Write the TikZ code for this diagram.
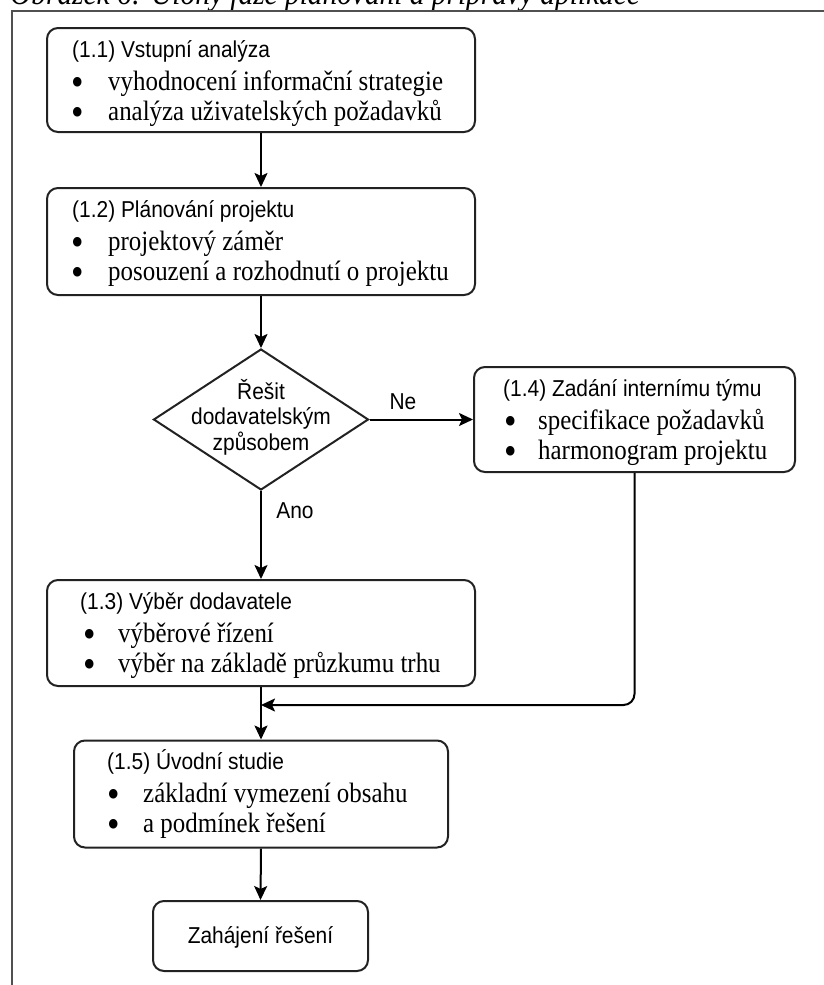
\documentclass[tikz,border=0pt]{standalone}
\usepackage{fontspec}
\setmainfont{Liberation Serif}
\setsansfont{Liberation Sans}
\newfontfamily\boxsans[FakeStretch=0.91]{Liberation Sans}
\newfontfamily\boxserif[FakeStretch=0.89]{Liberation Serif}
\newfontfamily\capserif[FakeStretch=0.89]{Liberation Serif}
\usetikzlibrary{shapes.geometric,arrows.meta}

\definecolor{boxline}{HTML}{222222}
\definecolor{framegray}{HTML}{505050}

\tikzset{
  box/.style={draw=boxline, line width=2pt, rounded corners=11pt, inner sep=0pt},
  flow/.style={draw=black, line width=2pt, -{Stealth[length=14pt,width=13pt,inset=3pt]}},
  ttl/.style={anchor=base west, inner sep=0pt, font=\boxsans\fontsize{23}{27}\selectfont},
  itm/.style={anchor=base west, inner sep=0pt, font=\boxserif\fontsize{28}{32}\selectfont},
  bul/.style={anchor=base west, inner sep=0pt, yshift=-5pt, font=\boxserif\fontsize{40}{40}\selectfont},
  lbl/.style={inner sep=0pt, font=\boxsans\fontsize{23}{27}\selectfont},
}

\begin{document}
\begin{tikzpicture}[x=1pt,y=-1pt]
\useasboundingbox (0,0) rectangle (823,985);

% caption above the frame
\node[anchor=base west, inner sep=0pt, font=\capserif\itshape\fontsize{33}{38}\selectfont] (cap) at (10,5)
  {Obrázek 6: Úlohy fáze plánování a přípravy aplikace};

% frame
\draw[framegray, line width=2.5pt] (12,986) -- (12,11) -- (824,11);

% boxes
\node[box, minimum width=428pt, minimum height=104pt] (b11) at (261,80) {};
\node[box, minimum width=428pt, minimum height=107pt] (b12) at (261,241.5) {};
\node[draw=boxline, line width=2pt, diamond, minimum width=215pt, minimum height=141pt, inner sep=0pt] (dia) at (261,419.5) {};
\node[box, minimum width=321pt, minimum height=105pt] (b14) at (634.5,419.5) {};
\node[box, minimum width=428pt, minimum height=106pt] (b13) at (261,633) {};
\node[box, minimum width=374pt, minimum height=107pt] (b15) at (261,794) {};
\node[box, minimum width=215pt, minimum height=70pt] (b16) at (260.5,936) {};

% box texts
\node[ttl] (t11) at (72,57) {(1.1) Vstupní analýza};
\node[bul] (u11a) at (71,90) {•};
\node[itm] (v11a) at (108,90) {vyhodnocení informační strategie};
\node[bul] (u11b) at (71,120) {•};
\node[itm] (v11b) at (108,120) {analýza uživatelských požadavků};

\node[ttl] (t12) at (72,217) {(1.2) Plánování projektu};
\node[bul] (u12a) at (71,250) {•};
\node[itm] (v12a) at (108,250) {projektový záměr};
\node[bul] (u12b) at (71,280) {•};
\node[itm] (v12b) at (108,280) {posouzení a rozhodnutí o projektu};

\node[lbl, align=center, font=\boxsans\fontsize{23}{25.5}\selectfont] (tdia) at (261,417)
  {Řešit\\dodavatelským\\způsobem};

\node[ttl] (t14) at (503,396) {(1.4) Zadání internímu týmu};
\node[bul] (u14a) at (504,429) {•};
\node[itm] (v14a) at (538,429) {specifikace požadavků};
\node[bul] (u14b) at (504,459) {•};
\node[itm] (v14b) at (538,459) {harmonogram projektu};

\node[ttl] (t13) at (80,609) {(1.3) Výběr dodavatele};
\node[bul] (u13a) at (83,642) {•};
\node[itm] (v13a) at (118,642) {výběrové řízení};
\node[bul] (u13b) at (83,672) {•};
\node[itm] (v13b) at (118,672) {výběr na základě průzkumu trhu};

\node[ttl] (t15) at (107,769) {(1.5) Úvodní studie};
\node[bul] (u15a) at (107,802) {•};
\node[itm] (v15a) at (143,802) {základní vymezení obsahu};
\node[bul] (u15b) at (107,832) {•};
\node[itm] (v15b) at (143,832) {a podmínek řešení};

\node[lbl] (t16) at (260.5,937) {Zahájení řešení};

% branch labels
\node[lbl] (lne) at (403,402) {Ne};
\node[lbl] (lano) at (295,511) {Ano};

% connectors
\coordinate (merge) at (261,705);
\draw[flow] (b11.south) -- (b12.north);
\draw[flow] (b12.south) -- (dia.north);
\draw[flow] (dia.east) -- (b14.west);
\draw[flow] (dia.south) -- (b13.north);
\draw[flow] (b13.south) -- (b15.north);
\draw[flow, rounded corners=11pt] (b14.south) |- (merge);
\draw[flow] (b15.south) -- (b16.north);
\end{tikzpicture}
\end{document}
